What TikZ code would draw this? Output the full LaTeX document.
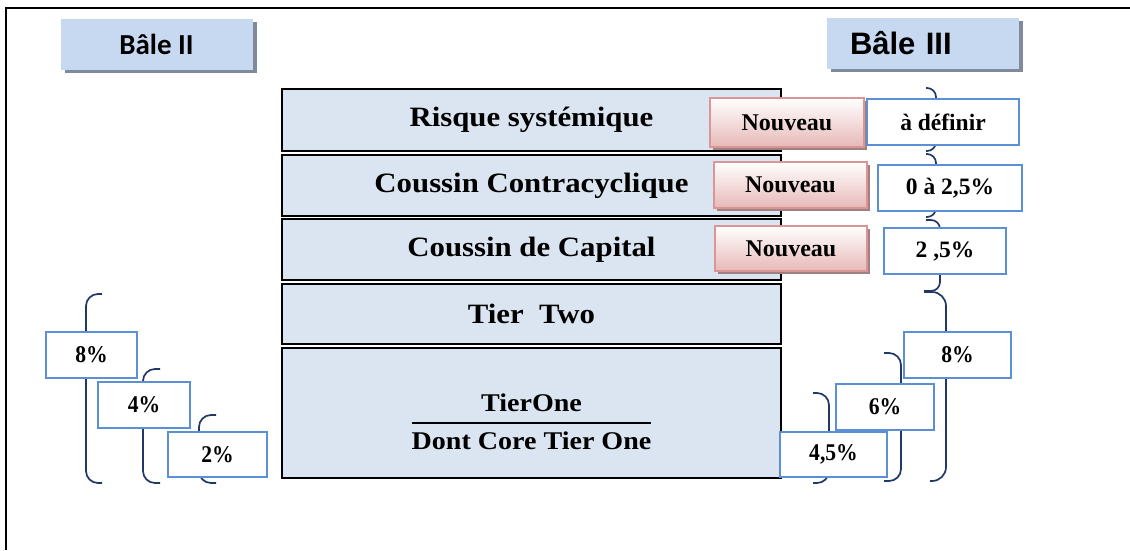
\documentclass[tikz,border=0pt]{standalone}
\usepackage{fontspec}
\setmainfont{Liberation Serif}
\newfontfamily\stackfont[FakeStretch=1.1]{Liberation Serif}
\newfontfamily\narrowfont[FakeStretch=0.9]{Liberation Serif}
\newfontfamily\calfont{Carlito}
\newfontfamily\arialfont{Liberation Sans}
\usetikzlibrary{shadows}

\definecolor{stackblue}{HTML}{DBE5F1}
\definecolor{titleblue}{HTML}{C6D9F1}
\definecolor{titleshadow}{HTML}{7F8A9C}
\definecolor{newborder}{HTML}{D99694}
\definecolor{newpink}{HTML}{E6B9B8}
\definecolor{newshadow}{HTML}{A08080}
\definecolor{valborder}{HTML}{5B8FD6}
\definecolor{bracecol}{HTML}{1F3864}

\tikzset{
  stackbox/.style={draw=black, line width=1.6pt, fill=stackblue, minimum width=499pt, inner sep=0pt,
    font=\stackfont\bfseries\fontsize{28}{34}\selectfont},
  baletitle/.style={fill=titleblue, inner sep=0pt, minimum width=192pt, minimum height=51pt,
    drop shadow={shadow xshift=4pt, shadow yshift=-3pt, fill=titleshadow, opacity=1}},
  newbox/.style={draw=newborder, line width=1.6pt, top color=white, bottom color=newpink, inner sep=0pt,
    font=\bfseries\fontsize{24}{28}\selectfont,
    drop shadow={shadow xshift=3pt, shadow yshift=-3pt, fill=newshadow, opacity=1}},
  ratebox/.style={draw=valborder, line width=1.5pt, fill=white, inner sep=0pt, minimum height=46pt,
    font=\bfseries\fontsize{23.5}{28}\selectfont},
  pctbox/.style={ratebox, font=\narrowfont\bfseries\fontsize{24}{28}\selectfont},
  bracketline/.style={draw=bracecol, line width=1.7pt, rounded corners=12pt},
}

\begin{document}
\begin{tikzpicture}[x=1pt, y=-1pt]
\useasboundingbox (0,0) rectangle (1130,550);

\draw[line width=2.6pt] (6,550) -- (6,8) -- (1130,8);

\node[baletitle, font=\calfont\bfseries\fontsize{29}{34}\selectfont] (bale2) at (156.5,44.5) {Bâle II};
\node[baletitle, font=\arialfont\bfseries\fontsize{31}{36}\selectfont, text width=146pt, align=left] (bale3) at (923,43.5) {Bâle III};

% les couches
\node[stackbox, minimum height=62pt] (risk) at (531.5,120) {Risque systémique};
\node[stackbox, minimum height=61pt] (contra) at (531.5,185.5) {Coussin Contracyclique};
\node[stackbox, minimum height=61pt] (capital) at (531.5,249.5) {Coussin de Capital};
\node[stackbox, minimum height=60pt] (tiertwo) at (531.5,314) {Tier~~Two};
\node[stackbox, minimum height=130pt, font=\stackfont\bfseries\fontsize{25.5}{36}\selectfont] (tierone) at (531.5,413)
  {\arrayrulewidth=2pt\begin{tabular}{@{}c@{}}\rule{0pt}{46pt}TierOne\\ \hline Dont Core Tier One\end{tabular}};

\node[newbox, minimum width=154pt, minimum height=49pt] (new1) at (787,122.5) {Nouveau};
\node[newbox, minimum width=153pt, minimum height=46pt] (new2) at (790.5,185) {Nouveau};
\node[newbox, minimum width=152pt, minimum height=45pt] (new3) at (791,248.5) {Nouveau};

% accolades
\draw[bracketline] (102,294) -- (86,294) -- (86,483) -- (102,483);
\draw[bracketline] (160,369) -- (143,369) -- (143,483) -- (160,483);
\draw[bracketline] (216,415) -- (199,415) -- (199,483) -- (216,483);

\draw[bracketline, rounded corners=9pt] (926,88) -- (936,88) -- (936,151) -- (926,151);
\draw[bracketline, rounded corners=9pt] (926,154) -- (936,154) -- (936,217) -- (926,217);
\draw[bracketline, rounded corners=9pt] (926,220) -- (940,220) -- (940,291) -- (924,291);
\draw[bracketline, rounded corners=14pt] (924,292) -- (946,292) -- (946,481) -- (930,481);
\draw[bracketline] (813,393) -- (829,393) -- (829,483) -- (813,483);
\draw[bracketline] (884,353) -- (901,353) -- (901,481) -- (884,481);

\node[ratebox, minimum width=152pt] (define) at (943,122) {à définir};
\node[ratebox, minimum width=144pt] (countercyc) at (950,188) {0 à 2,5\%};
\node[ratebox, minimum width=122pt] (buffer) at (945,251) {2 ,5\%};
\node[pctbox, minimum width=107pt] (totalnew) at (957.5,355) {8\%};
\node[pctbox, minimum width=98pt] (onenew) at (885,407) {6\%};
\node[pctbox, minimum width=107pt, minimum height=45pt] (corenew) at (833.5,454.5) {4,5\%};

\node[pctbox, minimum width=91pt] (totalold) at (91.5,355) {8\%};
\node[pctbox, minimum width=92pt] (oneold) at (144,405) {4\%};
\node[pctbox, minimum width=99pt, minimum height=45pt] (coreold) at (217.5,454.5) {2\%};

\end{tikzpicture}
\end{document}
